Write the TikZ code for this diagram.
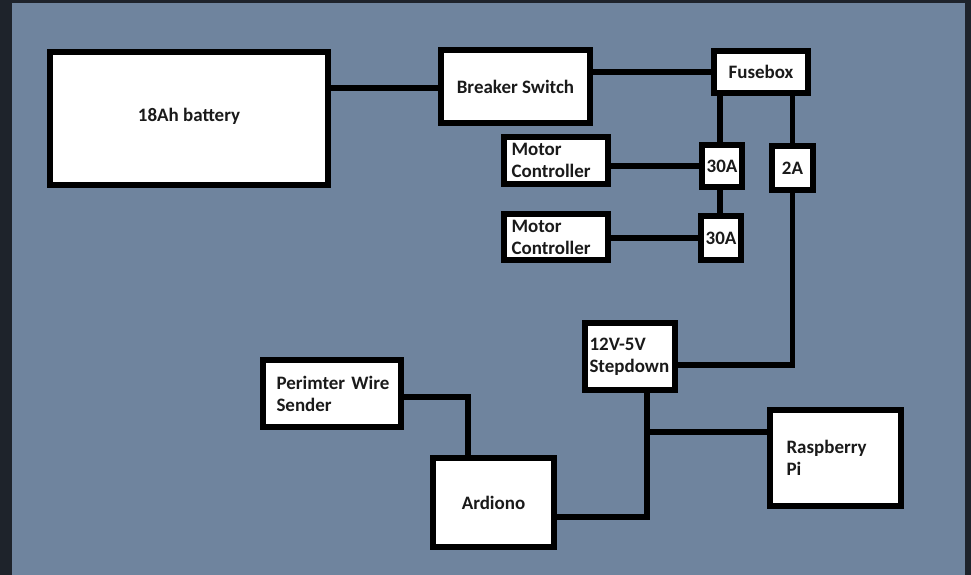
\documentclass[tikz,border=0pt]{standalone}
\usepackage{fontspec}
\setmainfont{Carlito}
\usepackage{xcolor}
\usepackage{tikz}

\definecolor{slate}{HTML}{6F849E}
\definecolor{frame}{HTML}{1E232B}
\definecolor{ink}{HTML}{1A1A1A}

\begin{document}
\begin{tikzpicture}[x=0.02cm, y=-0.02cm,
  box/.style={draw=black, line width=0.11cm, fill=white, inner sep=0pt,
    font=\fontsize{10.8}{12.6}\selectfont\bfseries, text=ink},
  tbox/.style={box, align=left, inner xsep=#1},
  wire/.style={line width=0.11cm}]

% background
\fill[frame] (0,0) rectangle (971,575);
\fill[slate] (12,3) rectangle (965,575);
\useasboundingbox (0,0) rectangle (971,575);

% power side
\node[box, minimum width=5.56cm, minimum height=2.66cm] (bat) at (189,118.5) {\raisebox{0.15cm}{18Ah battery}};
\node[box, minimum width=2.98cm, minimum height=1.46cm] (brk) at (515.5,86.5) {Breaker Switch};
\node[box, minimum width=1.88cm, minimum height=0.84cm] (fuse) at (761,72) {Fusebox};

\node[tbox=0.15cm, text width=1.78cm, minimum height=0.94cm] (mc1) at (556,160.5) {Motor\\Controller};
\node[tbox=0.15cm, text width=1.78cm, minimum height=0.92cm] (mc2) at (556,237) {Motor\\Controller};

\node[box, minimum width=0.8cm, minimum height=0.84cm] (f30a) at (722,166) {30A};
\node[box, minimum width=0.8cm, minimum height=0.88cm] (f30b) at (721,238) {30A};
\node[box, minimum width=0.82cm, minimum height=0.88cm] (f2) at (792.5,168) {2A};

% logic side
\node[tbox=0.09cm, text width=1.62cm, minimum height=1.34cm] (step) at (630,356.5) {12V-5V\\Stepdown};
\node[tbox=0.27cm, text width=2.22cm, minimum height=1.34cm] (perim) at (332,393.5) {\makebox[2.22cm][l]{Perimter Wire}\\Sender};
\node[box, minimum width=2.42cm, minimum height=1.78cm] (ard) at (493.5,502.5) {Ardiono};
\node[tbox=0.33cm, text width=1.96cm, minimum height=1.92cm] (rpi) at (835.5,458) {Raspberry\\Pi};

\coordinate (junc) at (647,432);

% wires
\draw[wire] ([yshift=-0.03cm]brk.west) -- ([yshift=-0.03cm]brk.west -| bat.east);
\draw[wire] (fuse.west) -- (fuse.west -| brk.east);
\draw[wire] ([xshift=-0.04cm]f30a.north) -- ([xshift=-0.04cm]f30a.north |- fuse.south);
\draw[wire] (f2.north) -- (f2.north |- fuse.south);
\draw[wire] (f30a.west) -- (f30a.west -| mc1.east);
\draw[wire] ([xshift=-0.04cm]f30a.south) -- ([xshift=-0.04cm]f30a.south |- f30b.north);
\draw[wire] (f30b.west) -- (f30b.west -| mc2.east);
\draw[wire] (f2.south) |- ([yshift=-0.17cm]step.east);
\draw[wire] ([yshift=-0.29cm]ard.east) -| ([xshift=0.34cm]step.south);
\draw[wire] (junc) -- (junc -| rpi.west);
\draw[wire] ([yshift=-0.07cm]perim.east) -| ([xshift=-0.51cm]ard.north);

\end{tikzpicture}
\end{document}
